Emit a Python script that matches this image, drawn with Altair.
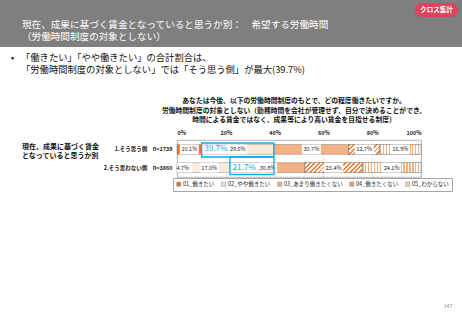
import altair as alt
import pandas as pd

# ---------------- data ----------------
rows = ["1.そう思う側　n=1739", "2.そう思わない側　n=3860"]
cats = ["01_働きたい", "02_やや働きたい", "03_あまり働きたくない", "04_働きたくない", "05_わからない"]
vals_row1 = [10.1, 29.6, 30.7, 12.7, 16.9]
vals_row2 = [4.7, 17.0, 30.8, 23.4, 24.1]
ticks = [0, 20, 40, 60, 80, 100]
hl_labels = ["39.7%", "21.7%"]
hl_start = [10.1, 21.7]
hl_end = [39.7, 39.7]

header_title = ["現在、成果に基づく賃金となっていると思うか別：　希望する労働時間", "（労働時間制度の対象としない）"]
bullet_lines = ["「働きたい」「やや働きたい」の合計割合は、", "「労働時間制度の対象としない」では「そう思う側」が最大(39.7%)"]
question_lines = ["あなたは今後、以下の労働時間制度のもとで、どの程度働きたいですか。",
                  "労働時間制度の対象としない（勤務時間を会社が管理せず、自分で決めることができ、",
                  "時間による賃金ではなく、成果等により高い賃金を目指せる制度）"]
group_label = ["現在、成果に基づく賃金", "となっていると思うか別"]
badge = "クロス集計"
page_no = "147"

# ---------------- geometry / style ----------------
JP = "Noto Sans CJK JP"
W, H = 244, 37
OX, OY = 177, 140
PX = W / 100.0
BAR_H = 9.8
LBL_HALF = 9.5 / PX

fill_colors = ["#E8772E", "#FCEBDD", "#F4B183", "#F3A26A", "#FAD7BC"]

recs = []
for r, vals in zip(rows, [vals_row1, vals_row2]):
    cum = 0.0
    for c, v in zip(cats, vals):
        s, e = cum, cum + v
        m = (s + e) / 2
        recs.append(dict(row=r, cat=c, pct=v, start=s, end=e, mid=m,
                         lo=max(0.0, m - LBL_HALF), hi=min(100.0, m + LBL_HALF),
                         label=f"{v:.1f}%"))
        cum = e
df = pd.DataFrame(recs)

hl_recs = []
for r, t, s, e in zip(rows, hl_labels, hl_start, hl_end):
    seg = df[(df.row == r) & (abs(df.start - s) < 0.05)].iloc[0]
    hl_recs.append(dict(row=r, text=t, start=s, end=e, bg_end=seg["mid"]))
hl = pd.DataFrame(hl_recs)

xs = alt.Scale(domain=[0, 100], nice=False, zero=False)
ys = alt.Scale(domain=rows, paddingInner=0.46, paddingOuter=0.25)

X = alt.X("start:Q", scale=xs,
          axis=alt.Axis(orient="top", values=ticks, labelExpr="datum.value + '%'", title=None,
                        ticks=False, domain=False, grid=True, gridDash=[1, 2], gridColor="#9a9a9a",
                        gridWidth=0.6, labelFontSize=5.5, labelPadding=5, labelFont=JP,
                        labelColor="#222", labelFontWeight="bold"))
Y = alt.Y("row:N", scale=ys, sort=rows,
          axis=alt.Axis(title=None, ticks=False, domain=False, labelFontSize=5.5, labelPadding=5,
                        labelFont=JP, labelFontWeight="bold", labelColor="#222", labelLimit=300))

base = alt.Chart(df)

bars = base.mark_bar(stroke="#6f6f6f", strokeWidth=0.4).encode(
    x=X, x2="end:Q", y=Y,
    fill=alt.Fill("cat:N", sort=cats, scale=alt.Scale(domain=cats, range=fill_colors),
                  legend=alt.Legend(orient="none", legendX=-4, legendY=38, direction="horizontal",
                                    columns=5, title=None, symbolType="square", symbolSize=16,
                                    labelFontSize=5.5, labelFont=JP, labelColor="#222",
                                    strokeColor="#a6a6a6", padding=3, columnPadding=5,
                                    labelOffset=1.5, symbolStrokeColor="#6f6f6f",
                                    symbolStrokeWidth=0.5, labelLimit=300))
)


def stripe_gradient(n, c_line, c_bg, frac, x2, y2):
    stops = []
    for i in range(n):
        a, b, e = i / n, (i + frac) / n, (i + 1) / n
        stops += [(c_line, a), (c_line, b), (c_bg, b), (c_bg, e)]
    return alt.LinearGradient(gradient="linear",
                              stops=[alt.GradientStop(color=c, offset=round(o, 5)) for c, o in stops],
                              x1=0, y1=0, x2=x2, y2=y2)


overlays = []
for r in rows:
    # 04: diagonal hatch
    v4 = df[(df.row == r) & (df.cat == cats[3])].iloc[0]["pct"]
    w4 = v4 * PX
    mu = (w4 + BAR_H) / (w4 ** 2 + BAR_H ** 2)
    n4 = max(3, int(round((w4 + BAR_H) / 4.6)))
    g4 = stripe_gradient(n4, "#ED7D31", "#FFFFFF", 0.42, round(mu * w4, 4), round(mu * BAR_H, 4))
    overlays.append(
        base.transform_filter((alt.datum.row == r) & (alt.datum.cat == cats[3]))
        .mark_bar(fill=g4, stroke="#6f6f6f", strokeWidth=0.4)
        .encode(x=X, x2="end:Q", y=Y)
    )
    # 05: vertical stripes
    v5 = df[(df.row == r) & (df.cat == cats[4])].iloc[0]["pct"]
    w5 = v5 * PX
    n5 = max(3, int(round(w5 / 3.0)))
    g5 = stripe_gradient(n5, "#F4B183", "#FFFFFF", 0.45, 1, 0)
    overlays.append(
        base.transform_filter((alt.datum.row == r) & (alt.datum.cat == cats[4]))
        .mark_bar(fill=g5, stroke="#6f6f6f", strokeWidth=0.4)
        .encode(x=X, x2="end:Q", y=Y)
    )

lbl_boxes = base.mark_bar(fill="white").encode(x=alt.X("lo:Q", scale=xs), x2="hi:Q", y=Y)

hl_bg = alt.Chart(hl).mark_bar(fill="white").encode(
    x=alt.X("start:Q", scale=xs), x2="bg_end:Q", y=Y)

lbl_text = base.mark_text(font=JP, fontSize=5.5, color="#222").encode(
    x=alt.X("mid:Q", scale=xs), y=Y, text="label:N")

hl_text = alt.Chart(hl).mark_text(font=JP, fontSize=8.2, color="#00B0F0", align="left", dx=2.5).encode(
    x=alt.X("start:Q", scale=xs), y=Y, text="text:N")

# highlight frames (vertical extents in pixels, per row)
hl_y = {rows[0]: (3, 17), rows[1]: (17, 34.5)}
hl_boxes = []
for r in rows:
    y0, y1 = hl_y[r]
    hl_boxes.append(
        alt.Chart(hl).transform_filter(alt.datum.row == r)
        .mark_rect(fill=None, stroke="#00B0F0", strokeWidth=1.3)
        .encode(x=alt.X("start:Q", scale=xs), x2="end:Q", y=alt.value(y0), y2=alt.value(y1))
    )


def one(txt):
    return alt.Chart(pd.DataFrame({"t": [txt]}))


def text_mark(txt, x, y, size, color="#111", weight="normal", align="left"):
    return one(txt).mark_text(font=JP, fontSize=size, color=color, fontWeight=weight,
                              align=align, baseline="middle").encode(
        x=alt.value(x - OX), y=alt.value(y - OY), text="t:N")


deco = []
deco.append(one("").mark_rect(color="#7F7F7F").encode(
    x=alt.value(-OX), x2=alt.value(462 - OX), y=alt.value(-OY), y2=alt.value(47 - OY)))
deco.append(one("").mark_rect(color="#D9455F", cornerRadius=7).encode(
    x=alt.value(415 - OX), x2=alt.value(458 - OX), y=alt.value(3 - OY), y2=alt.value(17 - OY)))
deco.append(text_mark(badge, 436.5, 10, 6.5, color="white", weight="bold", align="center"))
deco.append(text_mark(header_title[0], 22, 24.5, 9.6, color="white"))
deco.append(text_mark(header_title[1], 22, 37, 9.6, color="white"))
deco.append(text_mark("•", 11, 57.5, 9.3, color="#111"))
deco.append(text_mark(bullet_lines[0], 21, 57.5, 9.3))
deco.append(text_mark(bullet_lines[1], 21, 70, 9.3))
for i, ln in enumerate(question_lines):
    deco.append(text_mark(ln, 294, 101 + i * 9.5, 6.8, weight="bold", align="center"))
deco.append(text_mark(group_label[0], 22, 146.8, 7.0, weight="bold"))
deco.append(text_mark(group_label[1], 22, 155.8, 7.0, weight="bold"))
deco.append(text_mark(page_no, 448, 306, 5, color="#888", align="center"))

chart = alt.layer(
    *deco, bars, *overlays, lbl_boxes, hl_bg, lbl_text, hl_text, *hl_boxes
).properties(
    width=W, height=H,
    autosize=alt.AutoSizeParams(type="none"),
    padding={"left": OX, "top": OY, "right": 462 - OX - W, "bottom": 320 - OY - H},
    background="white",
).configure_view(stroke="#a6a6a6", strokeWidth=0.8)

chart.save("out.html", embed_options={"renderer": "svg", "actions": False})
